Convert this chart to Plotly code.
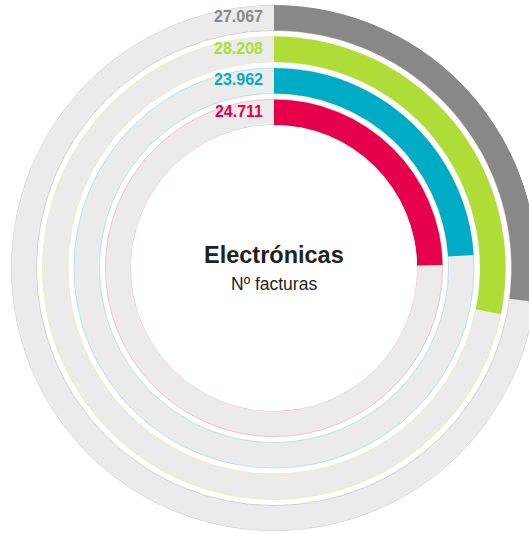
import math
import plotly.graph_objects as go

# ---- data (outer ring to inner ring) ----
series = ["Serie 1", "Serie 2", "Serie 3", "Serie 4"]
values = [27.067, 28.208, 23.962, 24.711]
value_labels = ["27.067", "28.208", "23.962", "24.711"]
full_scale = 100.0
title_text = "Electrónicas"
subtitle_text = "Nº facturas"

# ---- styles ----
bar_colors = ["#888888", "#afdc37", "#00abc6", "#e6004c"]
edge_colors = ["#d2d2d2", "#e6f0c0", "#b8e3ec", "#f6bfd0"]
track_color = "#ebebeb"
ring_step = 1.0
ring_thick = 0.81
hole = 0.544
label_gap_px = 11

# canvas geometry (reference image is a crop of a slightly wider chart)
W, H = 540, 534
cx, cy, R = 274, 268, 263

n = len(values)
bases = [(n - 1 - i) * ring_step for i in range(n)]
deg = [v / full_scale * 360.0 for v in values]
r_max = (n - 1) * ring_step + ring_thick


def radius_px(u):
    return R * (hole + (1 - hole) * u / r_max)


fig = go.Figure()

# background tracks (seam hidden under the coloured bars)
fig.add_trace(go.Barpolar(
    r=[ring_thick] * n, base=bases, theta=[225] * n, width=[360] * n,
    marker=dict(color=track_color, line=dict(color=edge_colors, width=1)),
    hoverinfo="skip", showlegend=False))

# coloured arcs
fig.add_trace(go.Barpolar(
    r=[ring_thick] * n, base=bases, theta=[d / 2 for d in deg], width=deg,
    marker=dict(color=bar_colors, line=dict(width=0)),
    text=value_labels, name="", showlegend=False))

# value labels just left of the start of each arc
label_r = [b + ring_thick / 2 for b in bases]
fig.add_trace(go.Scatterpolar(
    r=label_r,
    theta=[-math.degrees(math.asin(label_gap_px / radius_px(u))) for u in label_r],
    mode="text", text=["<b>%s</b>" % t for t in value_labels],
    textposition="middle left",
    textfont=dict(color=bar_colors, size=16, family="Liberation Sans"),
    hoverinfo="skip", showlegend=False))

dom_x = [(cx - R) / W, (cx + R) / W]
dom_y = [(H - cy - R) / H, (H - cy + R) / H]

fig.update_layout(
    width=W, height=H,
    margin=dict(l=0, r=0, t=0, b=0),
    paper_bgcolor="white", plot_bgcolor="white",
    showlegend=False,
    polar=dict(
        domain=dict(x=dom_x, y=dom_y),
        hole=hole,
        bgcolor="white",
        radialaxis=dict(visible=False, range=[0, r_max]),
        angularaxis=dict(visible=False, direction="clockwise", rotation=90),
    ),
    annotations=[
        dict(x=cx / W, y=(H - cy) / H, xref="paper", yref="paper",
             text="<b>%s</b>" % title_text, showarrow=False,
             font=dict(size=23.5, color="#222222", family="Liberation Sans"),
             yshift=13, xanchor="center", yanchor="middle"),
        dict(x=cx / W, y=(H - cy) / H, xref="paper", yref="paper",
             text=subtitle_text, showarrow=False,
             font=dict(size=17.5, color="#222222", family="Liberation Sans"),
             yshift=-16, xanchor="center", yanchor="middle"),
    ],
)

fig.write_html(
    "out.html",
    config={"displayModeBar": False},
    post_script="document.documentElement.style.margin='0';"
                "document.body.style.margin='0';"
                "document.documentElement.style.overflow='hidden';"
                "document.body.style.overflow='hidden';",
)
